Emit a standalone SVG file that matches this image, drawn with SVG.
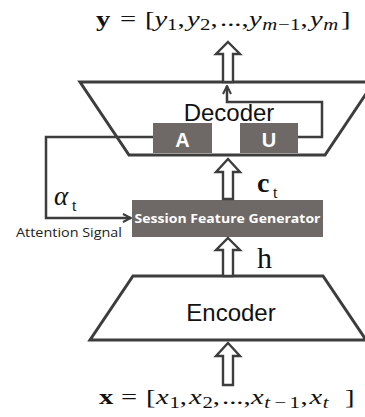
<svg xmlns="http://www.w3.org/2000/svg" width="365" height="417" viewBox="0 0 365 417">
<style>
.ln{fill:none;stroke:#3d3d3d;stroke-width:2.5;stroke-linejoin:miter}
.trap{fill:#fff;stroke:#3d3d3d;stroke-width:3;stroke-linejoin:miter}
.box{fill:#6e6966}
.harrow{fill:#fff;stroke:#3d3d3d;stroke-width:2.4;stroke-linejoin:miter}
.math{font-family:"Liberation Serif","DejaVu Serif",serif;font-size:22px;fill:#111}
.it{font-style:italic}
.sub{font-size:16px;font-style:italic}
.subr{font-size:16px}
.lbl{font-family:"Liberation Sans",Arial,sans-serif;font-size:24px;fill:#111}
.boxt{font-family:"Liberation Sans",Arial,sans-serif;font-size:20px;font-weight:bold;fill:#fff}
.sfg{font-family:"Open Sans","Liberation Sans",sans-serif;font-size:13px;font-weight:bold;fill:#fff}
.att{font-family:"Open Sans","Liberation Sans",sans-serif;font-size:12.5px;fill:#222}
.var{font-family:"Liberation Serif","DejaVu Serif",serif;fill:#111}
</style>
<defs>
<marker id="chev" viewBox="0 0 10 10" refX="9" refY="5" markerWidth="10" markerHeight="10" markerUnits="userSpaceOnUse" orient="auto">
<path d="M1,1 L9,5 L1,9" fill="none" stroke="#3d3d3d" stroke-width="2"/>
</marker>
</defs>

<g id="output-label">
<text class="math" transform="translate(0,26) scale(1.3,1)" y="0"><tspan x="73.85" font-weight="bold">y</tspan><tspan x="92.3">=</tspan><tspan x="111.5">[</tspan><tspan x="118.9" class="it">y</tspan><tspan x="128.46" dy="4" class="subr">1</tspan><tspan x="136.54" dy="-4">,</tspan><tspan x="143.85" class="it">y</tspan><tspan x="153.85" dy="4" class="subr">2</tspan><tspan x="161.92" dy="-4">,</tspan><tspan x="169.23">...,</tspan><tspan x="191.54" class="it">y</tspan><tspan x="201.8" dy="4" class="sub">m</tspan><tspan x="213.85" class="subr">−</tspan><tspan x="223.08" class="subr">1</tspan><tspan x="231.15" dy="-4">,</tspan><tspan x="238.46" class="it">y</tspan><tspan x="248.7" dy="4" class="sub">m</tspan><tspan x="262.31" dy="-4">]</tspan></text>
</g>

<g id="decoder">
<polygon class="trap" points="80,82 374,82 325,155 129,155"/>
<text class="lbl" x="229" y="121" text-anchor="middle">Decoder</text>
</g>
<g id="box-a">
<rect class="box" x="153" y="123" width="59" height="30"/>
<text class="boxt" x="182.5" y="147" text-anchor="middle">A</text>
</g>
<g id="box-u">
<rect class="box" x="240" y="123" width="58" height="30"/>
<text class="boxt" x="269" y="147" text-anchor="middle">U</text>
</g>

<g id="sfg">
<rect class="box" x="132" y="200" width="191" height="37"/>
<text class="sfg" x="227.5" y="223" text-anchor="middle" textLength="186" lengthAdjust="spacingAndGlyphs">Session Feature Generator</text>
</g>

<g id="encoder">
<polygon class="trap" points="133,276 323,276 366,340 90,340"/>
<text class="lbl" x="231" y="321" text-anchor="middle">Encoder</text>
</g>

<g id="input-label">
<text class="math" transform="translate(0,404) scale(1.3,1)" y="0"><tspan x="76.15" font-weight="bold">x</tspan><tspan x="93.08">=</tspan><tspan x="112.31">[</tspan><tspan x="120" class="it">x</tspan><tspan x="130.3" dy="4" class="subr">1</tspan><tspan x="138.3" dy="-4">,</tspan><tspan x="145.38" class="it">x</tspan><tspan x="155.7" dy="4" class="subr">2</tspan><tspan x="163.6" dy="-4">,</tspan><tspan x="170.77">...,</tspan><tspan x="193.08" class="it">x</tspan><tspan x="203.2" dy="4" class="sub">t</tspan><tspan x="211.2" class="subr">−</tspan><tspan x="222.8" class="subr">1</tspan><tspan x="231.2" dy="-4">,</tspan><tspan x="238" class="it">x</tspan><tspan x="248.2" dy="4" class="sub">t</tspan><tspan x="265.4" dy="-4">]</tspan></text>
</g>

<g id="connectors">
<path class="harrow" d="M228,42 L240,54 L233,54 L233,82 L223,82 L223,54 L216,54 Z"/>
<path class="harrow" d="M228,159 L240,172 L233,172 L233,199 L223,199 L223,172 L216,172 Z"/>
<path class="harrow" d="M228,238 L240,250 L233,250 L233,276 L223,276 L223,250 L216,250 Z"/>
<path class="harrow" d="M228,343 L240,356 L233,356 L233,385 L223,385 L223,356 L216,356 Z"/>
<polyline class="ln" points="298,137 322,137 322,102 227,102 227,86" marker-end="url(#chev)"/>
<polyline class="ln" points="153,137 46,137 46,218 131,218" marker-end="url(#chev)"/>
</g>

<g id="var-labels">
<text class="var" x="257" y="192" font-size="28" font-weight="bold">c</text>
<text class="var" x="273" y="198" font-size="16">t</text>
<text class="var" x="257" y="268" font-size="30">h</text>
<text class="var" x="54" y="205" font-size="27" font-style="italic">α</text>
<text class="var" x="72" y="211" font-size="16">t</text>
<text class="att" x="16" y="237" textLength="106" lengthAdjust="spacingAndGlyphs">Attention Signal</text>
</g>
</svg>
